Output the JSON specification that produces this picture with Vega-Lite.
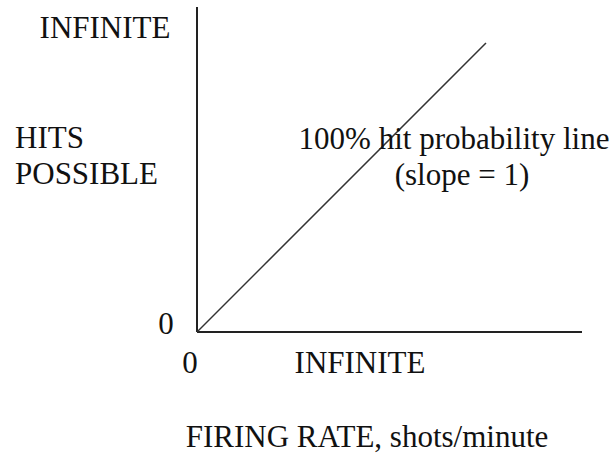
{
  "$schema": "https://vega.github.io/schema/vega-lite/v6.json",
  "width": 615,
  "height": 454,
  "autosize": {"type": "fit", "contains": "padding"},
  "padding": 0,
  "background": "white",
  "config": {"view": {"stroke": null}},
  "datasets": {
    "axes": [
      {"part": "hits axis", "x": 0, "y": 0, "x2": 0, "y2": 325},
      {"part": "rate axis", "x": 0, "y": 0, "x2": 385, "y2": 0}
    ],
    "diagonal": [
      {"rate": 0, "hits": 0},
      {"rate": 289, "hits": 289}
    ],
    "labels": [
      {"label": "INFINITE", "x": -92, "y": 294, "anchor": "center"},
      {"label": "HITS", "x": -182, "y": 184, "anchor": "left"},
      {"label": "POSSIBLE", "x": -182, "y": 148, "anchor": "left"},
      {"label": "0", "x": -31, "y": -2, "anchor": "center"},
      {"label": "0", "x": -7, "y": -41, "anchor": "center"},
      {"label": "INFINITE", "x": 163, "y": -41, "anchor": "center"},
      {"label": "FIRING RATE, shots/minute", "x": 170, "y": -115, "anchor": "center"},
      {"label": "100% hit probability line", "x": 257, "y": 183, "anchor": "center"},
      {"label": "(slope = 1)", "x": 265, "y": 147, "anchor": "center"}
    ]
  },
  "layer": [
    {
      "data": {"name": "axes"},
      "mark": {"type": "rule", "color": "#222222", "strokeWidth": 2},
      "encoding": {
        "x": {"field": "x", "type": "quantitative", "scale": {"domain": [-197, 418], "nice": false, "zero": false}, "axis": null},
        "y": {"field": "y", "type": "quantitative", "scale": {"domain": [-122, 332], "nice": false, "zero": false}, "axis": null},
        "x2": {"field": "x2"},
        "y2": {"field": "y2"}
      }
    },
    {
      "data": {"name": "diagonal"},
      "mark": {"type": "line", "color": "#333333", "strokeWidth": 1.5},
      "encoding": {
        "x": {"field": "rate", "type": "quantitative"},
        "y": {"field": "hits", "type": "quantitative"}
      }
    },
    {
      "data": {"name": "labels"},
      "transform": [{"filter": "datum.anchor === 'center'"}],
      "mark": {"type": "text", "font": "Liberation Serif", "fontSize": 31, "align": "center", "baseline": "alphabetic", "color": "#111111"},
      "encoding": {
        "x": {"field": "x", "type": "quantitative"},
        "y": {"field": "y", "type": "quantitative"},
        "text": {"field": "label"}
      }
    },
    {
      "data": {"name": "labels"},
      "transform": [{"filter": "datum.anchor === 'left'"}],
      "mark": {"type": "text", "font": "Liberation Serif", "fontSize": 31, "align": "left", "baseline": "alphabetic", "color": "#111111"},
      "encoding": {
        "x": {"field": "x", "type": "quantitative"},
        "y": {"field": "y", "type": "quantitative"},
        "text": {"field": "label"}
      }
    }
  ]
}
